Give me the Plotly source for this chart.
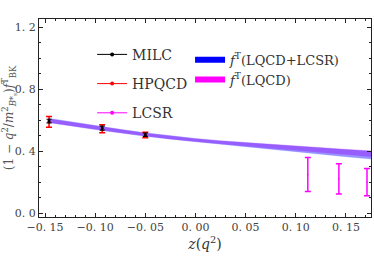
import plotly.graph_objects as go

# ---- data ----
lat_z = [-0.146, -0.093, -0.050]
milc_y = [0.595, 0.550, 0.507]
milc_err = [0.012, 0.013, 0.011]
hpqcd_y = [0.590, 0.545, 0.505]
hpqcd_err = [0.035, 0.026, 0.018]

lcsr_z = [0.112, 0.143, 0.171]
lcsr_y = [0.250, 0.222, 0.200]
lcsr_err = [0.110, 0.098, 0.088]

z_band = [-0.147, -0.125, -0.1, -0.075, -0.05, -0.025, 0.0, 0.025, 0.05, 0.075, 0.1, 0.125, 0.15, 0.176]
blue_lo = [0.586, 0.565, 0.540, 0.518, 0.497, 0.478, 0.461, 0.444, 0.430, 0.413, 0.397, 0.381, 0.365, 0.349]
blue_hi = [0.614, 0.591, 0.564, 0.542, 0.519, 0.500, 0.483, 0.468, 0.456, 0.443, 0.431, 0.421, 0.411, 0.401]
mag_lo = [0.586, 0.566, 0.542, 0.520, 0.499, 0.480, 0.463, 0.447, 0.434, 0.419, 0.405, 0.391, 0.377, 0.364]
mag_hi = [0.610, 0.588, 0.562, 0.540, 0.517, 0.498, 0.481, 0.467, 0.456, 0.443, 0.431, 0.421, 0.411, 0.402]

x_ticks = [-0.15, -0.10, -0.05, 0.0, 0.05, 0.10, 0.15]
x_tick_text = ["−0. 15", "−0. 10", "−0. 05", "0. 00", "0. 05", "0. 10", "0. 15"]
y_ticks = [0.0, 0.4, 0.8, 1.2]
y_tick_text = ["0. 0", "0. 4", "0. 8", "1. 2"]

FONT = "DejaVu Serif, Liberation Serif, serif"
fig = go.Figure()

# bands
fig.add_trace(go.Scatter(x=z_band + z_band[::-1], y=mag_hi + mag_lo[::-1], fill="toself",
                         fillcolor="rgba(255,40,255,0.55)", line=dict(color="rgba(255,120,255,0.5)", width=0.5),
                         mode="lines", showlegend=False, hoverinfo="skip"))
fig.add_trace(go.Scatter(x=z_band + z_band[::-1], y=blue_hi + blue_lo[::-1], fill="toself",
                         fillcolor="rgba(50,50,255,0.5)", line=dict(color="rgba(90,90,255,0.4)", width=0.5),
                         mode="lines", showlegend=False, hoverinfo="skip"))

# data points
fig.add_trace(go.Scatter(x=lat_z, y=hpqcd_y, mode="markers", showlegend=False,
                         marker=dict(color="red", size=3),
                         error_y=dict(type="data", array=hpqcd_err, color="red", thickness=1.5, width=3)))
fig.add_trace(go.Scatter(x=lat_z, y=milc_y, mode="markers", showlegend=False,
                         marker=dict(color="black", size=3),
                         error_y=dict(type="data", array=milc_err, color="black", thickness=1.2, width=2.5)))
fig.add_trace(go.Scatter(x=lcsr_z, y=lcsr_y, mode="markers", showlegend=False,
                         marker=dict(color="rgba(255,0,255,0.5)", size=2),
                         error_y=dict(type="data", array=lcsr_err, color="magenta", thickness=1.5, width=3)))

# legend entries
for name, col, grp in [("MILC", "black", "a"), ("HPQCD", "red", "b"), ("LCSR", "magenta", "c")]:
    fig.add_trace(go.Scatter(x=[None], y=[None], mode="lines+markers", name=name, legend="legend",
                             legendgroup=grp, line=dict(color=col, width=1), marker=dict(color=col, size=4)))

fig.add_trace(go.Scatter(x=[None], y=[None], mode="lines", name="<i>f</i><sup>T</sup>(LQCD+LCSR)",
                         legend="legend2", line=dict(color="blue", width=6)))
fig.add_trace(go.Scatter(x=[None], y=[None], mode="lines", name="<i>f</i><sup>T</sup>(LQCD)",
                         legend="legend2", line=dict(color="magenta", width=6)))

axis_common = dict(showgrid=False, zeroline=False, showline=True, linecolor="#222", linewidth=1,
                   mirror="allticks", ticks="inside", ticklen=4, tickcolor="#222", automargin=False,
                   tickfont=dict(family=FONT, size=11, color="#444"))

fig.update_xaxes(range=[-0.156, 0.175], tickvals=x_ticks, ticktext=x_tick_text,
                 minor=dict(ticks="inside", ticklen=2, dtick=0.01, tickcolor="#222", showgrid=False),
                 title=dict(text="<i>z</i>(<i>q</i><sup>2</sup>)", font=dict(family=FONT, size=14, color="#333"),
                            standoff=4),
                 **axis_common)
fig.update_yaxes(range=[-0.025, 1.255], tickvals=y_ticks, ticktext=y_tick_text,
                 minor=dict(ticks="inside", ticklen=2, dtick=0.1, tickcolor="#222", showgrid=False),
                 title=dict(text="(1 − <i>q</i><sup>2</sup>/<i>m</i><sup>2</sup><sub><i>B</i>*<sub>s</sub></sub>)<i>f</i><sup>T</sup><sub>BK</sub>",
                            font=dict(family=FONT, size=12, color="#555"), standoff=0),
                 **axis_common)

fig.update_layout(
    width=374, height=259,
    margin=dict(l=39, r=3, t=19, b=42),
    paper_bgcolor="white", plot_bgcolor="white",
    font=dict(family=FONT, color="#333"),
    legend=dict(x=0.16, y=0.90, xanchor="left", yanchor="top", bgcolor="rgba(0,0,0,0)",
                font=dict(family=FONT, size=14, color="#333"), tracegroupgap=8, itemwidth=30),
    legend2=dict(x=0.455, y=0.87, xanchor="left", yanchor="top", bgcolor="rgba(0,0,0,0)",
                 font=dict(family=FONT, size=13, color="#333"), tracegroupgap=0, itemwidth=30),
)

fig.write_html("out.html", config={"displayModeBar": False},
               post_script="document.body.style.margin='0';document.body.style.padding='0';document.body.style.overflow='hidden';")
